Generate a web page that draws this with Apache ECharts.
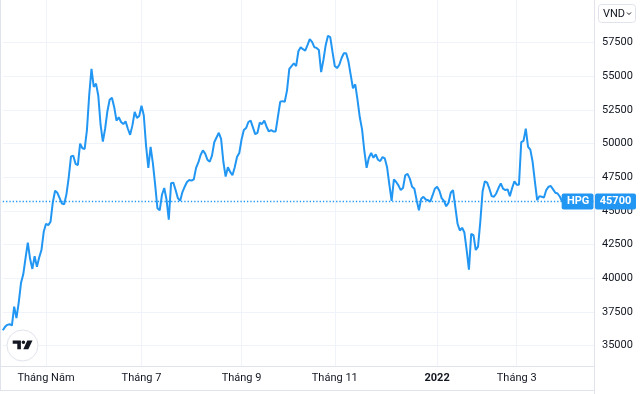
<!DOCTYPE html>
<html><head><meta charset="utf-8">
<script src="https://cdn.jsdelivr.net/npm/echarts@6/dist/echarts.min.js"></script>
<style>html,body{margin:0;padding:0;background:#fff}#c{width:640px;height:394px}</style>
</head><body><div id="c"></div>
<script>
const symbolName = 'HPG';
const currency = 'VND';
// daily closes, trading days from early April 2021 to end of March 2022
const prices = [
36150,36400,36550,36600,36500,37900,37050,38200,39650,40300,
41500,42650,41450,40700,41650,40850,41550,42100,43450,44050,
43950,44200,45650,46500,46350,45950,45550,45500,46250,47500,
49050,49100,48500,48400,50000,49650,49600,51000,53600,55550,
54200,54450,53550,51400,50150,51100,52400,53250,53400,52700,
51700,51950,51600,51450,51650,51100,50650,51350,52350,51900,
52050,52800,52100,49850,48200,49750,48550,46950,45200,45050,
46200,46700,45850,44350,47050,47100,46550,45950,45750,46400,
46800,47150,47300,47250,47350,48200,48600,49150,49500,49250,
48800,48650,49100,50100,50450,50800,50350,48650,47550,48250,
47900,47650,48250,49000,49300,50300,51000,51150,51600,51700,
51200,50700,50800,51550,51450,51700,51250,50900,51000,50900,
50900,52000,53100,53150,53100,53950,55550,55750,55950,55750,
56850,57150,57000,56900,57300,57750,57550,57150,57100,56950,
55300,56200,57300,58000,57900,56800,55750,55600,55850,56350,
56700,56700,56100,55100,54100,54400,53250,51950,51050,49450,
48200,48950,49300,48950,49200,48800,48700,49000,48900,48250,
46950,45750,47350,47150,46900,46550,46700,47650,47750,47400,
46800,46650,45800,45050,45900,46050,45850,45800,45700,46150,
46650,46800,46500,45950,45750,45350,45600,46350,46550,45300,
44050,43550,43750,43400,42100,40650,43300,43200,42100,42350,
44200,46450,47200,47100,46650,46100,46050,46300,46700,47050,
46650,46550,46600,46100,46700,47200,46950,46950,50100,50200,
51100,49750,49550,48650,47200,45800,46100,46050,46000,46550,
46800,46850,46600,46350,46300,46050,45700
];
const lastPrice = 45700;
// index of the first trading day of each labelled month
const tickIndex = [19, 61, 105, 146, 191, 226];
const tickLabels = ['Tháng Năm', 'Tháng 7', 'Tháng 9', 'Tháng 11', '2022', 'Tháng 3'];
const yTicks = [35000, 37500, 40000, 42500, 45000, 47500, 50000, 52500, 55000, 57500];
const yMin = 33496, yMax = 60653;
const slotCount = 261; // trading-day slots incl. right margin

const slots = [];
for (let i = 0; i < slotCount; i++) slots.push(String(i));
const labelAt = {};
tickIndex.forEach((k, j) => { labelAt[k] = tickLabels[j]; });

const FONT = 'Roboto, "Open Sans", sans-serif';
const BLUE = '#2196F3';
const TXT = '#131722';
const GRID = '#f0f3fa';
const BORDER = '#e0e3eb';

const chart = echarts.init(document.getElementById('c'), null, { renderer: 'canvas' });
chart.setOption({
  animation: false,
  backgroundColor: '#fff',
  grid: { left: 2.8, right: 46, top: 0, bottom: 28 },
  xAxis: {
    type: 'category', data: slots, boundaryGap: false,
    axisLine: { show: true, lineStyle: { color: BORDER, width: 1 } },
    axisTick: { show: false },
    axisLabel: {
      interval: (i) => labelAt[i] !== undefined,
      formatter: (v) => {
        const t = labelAt[Number(v)] || '';
        return t === '2022' ? '{b|' + t + '}' : t;
      },
      color: TXT, fontFamily: FONT, fontSize: 11, margin: 7,
      rich: { b: { fontWeight: 'bold', color: TXT, fontFamily: FONT, fontSize: 11 } }
    },
    splitLine: { show: true, interval: (i) => labelAt[i] !== undefined, lineStyle: { color: GRID, width: 1 } }
  },
  yAxis: {
    type: 'value', position: 'right', min: yMin, max: yMax, scale: true,
    axisLine: { show: true, lineStyle: { color: BORDER, width: 1 } },
    axisTick: { show: false, customValues: yTicks },
    axisLabel: { customValues: yTicks, formatter: (v) => String(v), color: TXT, fontFamily: FONT, fontSize: 11, margin: 8 },
    splitLine: { show: true, lineStyle: { color: GRID, width: 1 } }
  },
  series: [{
    name: symbolName, type: 'line', data: prices, showSymbol: false, symbol: 'none',
    lineStyle: { color: BLUE, width: 2 }, itemStyle: { color: BLUE },
    markLine: {
      silent: true, symbol: 'none', label: { show: false },
      itemStyle: { color: BLUE },
      lineStyle: { color: BLUE, width: 1.3, type: [1.3, 2], opacity: 1 },
      emphasis: { disabled: true },
      data: [{ yAxis: lastPrice }]
    }
  }]
});

const py = chart.convertToPixel({ yAxisIndex: 0 }, lastPrice);
const xEnd = chart.convertToPixel({ xAxisIndex: 0 }, String(slotCount - 1));
const xLast = chart.convertToPixel({ xAxisIndex: 0 }, String(prices.length - 1));
const yBot = chart.convertToPixel({ yAxisIndex: 0 }, yMin);
const lblFont = { fontFamily: FONT, fontSize: 11, fontWeight: 'bold' };

chart.setOption({
  graphic: [
    // borders
    { type: 'line', z: 50, shape: { x1: 0.5, y1: 0, x2: 0.5, y2: 390.5 }, style: { stroke: BORDER, lineWidth: 1 } },
    { type: 'line', z: 50, shape: { x1: 0, y1: yBot + 0.5, x2: xEnd, y2: yBot + 0.5 }, style: { stroke: BORDER, lineWidth: 1 } },
    { type: 'line', z: 50, shape: { x1: 0, y1: 390.5, x2: xEnd, y2: 390.5 }, style: { stroke: BORDER, lineWidth: 1 } },
    { type: 'line', z: 50, shape: { x1: Math.round(xEnd) + 0.5, y1: 0, x2: Math.round(xEnd) + 0.5, y2: 394 }, style: { stroke: BORDER, lineWidth: 1 } },
    // symbol tag
    { type: 'rect', z: 60, shape: { x: xLast - 0.5, y: py - 8, width: xEnd - xLast, height: 16, r: 2 }, style: { fill: BLUE } },
    { type: 'text', z: 61, style: Object.assign({ text: symbolName, x: (xLast + xEnd) / 2, y: py, fill: '#fff', align: 'center', verticalAlign: 'middle' }, lblFont) },
    // price tag on axis
    { type: 'rect', z: 60, shape: { x: xEnd + 1, y: py - 8, width: 41, height: 16, r: 2 }, style: { fill: BLUE } },
    { type: 'text', z: 61, style: Object.assign({ text: String(lastPrice), x: xEnd + 21.5, y: py, fill: '#fff', align: 'center', verticalAlign: 'middle' }, lblFont) },
    // currency button
    { type: 'rect', z: 60, shape: { x: 598.5, y: 4.5, width: 37, height: 18, r: 3 }, style: { fill: '#fff', stroke: BORDER, lineWidth: 1 } },
    { type: 'text', z: 61, style: { text: currency, x: 603, y: 14, fill: TXT, fontFamily: FONT, fontSize: 11, align: 'left', verticalAlign: 'middle' } },
    { type: 'polyline', z: 61, shape: { points: [[627, 12.5], [629, 14.5], [631, 12.5]] }, style: { stroke: TXT, lineWidth: 1, fill: null } },
    // logo
    { type: 'circle', z: 60, shape: { cx: 22.5, cy: 345.5, r: 15.5 }, style: { fill: '#fff', stroke: BORDER, lineWidth: 1 } },
    { type: 'polygon', z: 61, shape: { points: [[12.7, 340.5], [20.9, 340.5], [20.9, 349.3], [17.3, 349.3], [17.3, 343.8], [12.7, 343.8]] }, style: { fill: '#131722' } },
    { type: 'circle', z: 61, shape: { cx: 23.4, cy: 342.3, r: 1.8 }, style: { fill: '#131722' } },
    { type: 'polygon', z: 61, shape: { points: [[27.3, 340.5], [32.5, 340.5], [28.3, 349.3], [23.3, 349.3]] }, style: { fill: '#131722' } }
  ]
});
</script>
</body></html>
